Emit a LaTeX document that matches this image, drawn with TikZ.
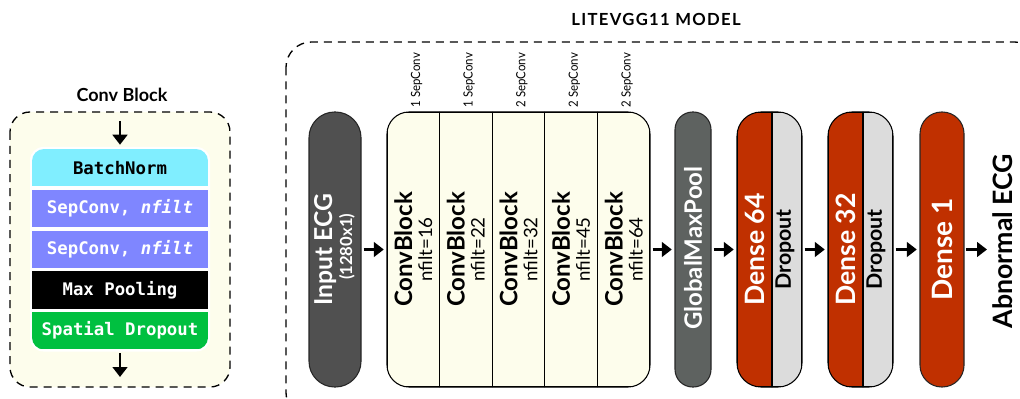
\documentclass[tikz,border=0pt]{standalone}
\usepackage{fontspec}
\setmainfont{Lato}
\setmonofont{DejaVu Sans Mono}
\usetikzlibrary{arrows.meta}

\definecolor{ivory}{HTML}{FDFDEC}
\definecolor{bncyan}{HTML}{80EEFF}
\definecolor{sepblue}{HTML}{7F86FF}
\definecolor{sdgreen}{HTML}{00C040}
\definecolor{inpgray}{HTML}{505050}
\definecolor{gmpgray}{HTML}{5E6260}
\definecolor{densered}{HTML}{C03000}
\definecolor{dropgray}{HTML}{DCDCDC}

\newcommand{\fsz}[1]{\fontsize{#1}{#1}\selectfont}

\begin{document}
\begin{tikzpicture}[x=0.75pt,y=-0.75pt,
  arr/.style={line width=2pt,-{Triangle[length=7.5pt,width=11pt]}},
  frame/.style={line width=1pt,dash pattern=on 6pt off 4.5pt},
  band/.style={minimum width=132pt,minimum height=28.1pt,inner sep=0pt,
    font=\ttfamily\bfseries\fsz{13}},
  pillbox/.style={draw=black!85,line width=0.8pt,inner sep=0pt,minimum height=206.25pt},
  colbox/.style={draw=black,line width=0.8pt,fill=ivory,inner sep=0pt,
    minimum width=39.45pt,minimum height=206.25pt},
  coltext/.style={rotate=90,align=center,inner sep=0pt,font=\fsz{15}},
  seplabel/.style={rotate=90,anchor=west,inner sep=0pt,font=\fsz{9.5}},
  vtitle/.style={rotate=90,inner sep=0pt,font=\bfseries\fsz{18}},
]
\useasboundingbox (0,0) rectangle (1020,399);

% ---------- Conv Block detail ----------
\node[font=\bfseries\fsz{13.5}] (cbtitle) at (122,95) {Conv Block};
\draw[frame,fill=ivory,rounded corners=15pt] (10,112) rectangle (230,387);

\fill[white,rounded corners=10pt] (30,147) rectangle (210,351.5);
\begin{scope}
  \clip[rounded corners=9pt] (32,149) rectangle (208,349.5);
  \node[band,fill=bncyan,text=black] (bn) at (120,167.75) {BatchNorm};
  \node[band,fill=sepblue,text=white] (sc1) at (120,208.5) {SepConv, \textit{nfilt}};
  \node[band,fill=sepblue,text=white] (sc2) at (120,249.25) {SepConv, \textit{nfilt}};
  \node[band,fill=black,text=white] (mp) at (120,290) {Max Pooling};
  \node[band,fill=sdgreen,text=white] (sd) at (120,330.75) {Spatial Dropout};
\end{scope}

\coordinate (cbin) at (120,121);
\coordinate (cbout) at (120,377);
\draw[arr,shorten >=3pt] (cbin) -- (bn.north);
\draw[arr,shorten <=2.5pt] (sd.south) -- (cbout);

% ---------- LiteVGG11 model ----------
\node[font=\bfseries\fsz{12.5}\addfontfeature{LetterSpace=8}] (mtitle) at (656,19) {LITEVGG11 MODEL};
\begin{scope}
  \clip (0,0) rectangle (1020,399);
  \draw[frame,rounded corners=19pt] (286,42) rectangle (1040,418);
\end{scope}

% input
\node[pillbox,fill=inpgray,minimum width=39pt,rounded corners=19.2pt] (inp) at (335,249.5) {};
\node[coltext,text=white] (inptext) at ([xshift=-0.5pt]inp.center)
  {{\bfseries\fsz{18.5}Input ECG}\\{\bfseries\fsz{12.5}\hspace*{4pt}(1280x1)}};

% five conv blocks
\begin{scope}
  \clip[rounded corners=16.5pt] (387,112) rectangle (650,387);
  \foreach \i/\cx in {1/413.3,2/465.9,3/518.5,4/571.1,5/623.7}{
    \node[colbox] (col\i) at (\cx,249.5) {};
  }
\end{scope}
\draw[line width=0.8pt,rounded corners=16.5pt] (387,112) rectangle (650,387);

\foreach \i/\n in {1/16,2/22,3/32,4/45,5/64}{
  \node[coltext] (ct\i) at (col\i.center)
    {{\bfseries\fsz{18}ConvBlock}\\{\fsz{14}nfilt=\n}};
}
\foreach \i/\k in {1/1,2/1,3/2,4/2,5/2}{
  \node[seplabel] (sl\i) at ([xshift=2.5pt,yshift=3pt]col\i.north)
    {\scalebox{0.9}[1]{\k\ SepConv}};
}

% global max pooling
\node[pillbox,fill=gmpgray,minimum width=27pt,rounded corners=13.2pt] (gmp) at (693,249.5) {};
\node[vtitle,text=white] (gmptext) at ([yshift=1pt]gmp.center) {GlobalMaxPool};

% dense + dropout, twice
\begin{scope}
  \clip[rounded corners=18pt] (737,112) rectangle (802,387);
  \node[pillbox,draw=black,fill=densered,minimum width=26.25pt] (dn1) at (754.5,249.5) {};
  \node[pillbox,draw=black,fill=dropgray,minimum width=22.5pt] (do1) at (787,249.5) {};
\end{scope}
\draw[line width=0.8pt,rounded corners=18pt] (737,112) rectangle (802,387);
\node[vtitle,text=white,font=\bfseries\fsz{20}] (dn1t) at (dn1.center) {Dense 64};
\node[vtitle,font=\bfseries\fsz{16}] (do1t) at ([xshift=-1.5pt]do1.center) {Dropout};

\begin{scope}
  \clip[rounded corners=18pt] (828,112) rectangle (893,387);
  \node[pillbox,draw=black,fill=densered,minimum width=26.25pt] (dn2) at (845.5,249.5) {};
  \node[pillbox,draw=black,fill=dropgray,minimum width=22.5pt] (do2) at (878,249.5) {};
\end{scope}
\draw[line width=0.8pt,rounded corners=18pt] (828,112) rectangle (893,387);
\node[vtitle,text=white,font=\bfseries\fsz{20}] (dn2t) at (dn2.center) {Dense 32};
\node[vtitle,font=\bfseries\fsz{16}] (do2t) at ([xshift=-1.5pt]do2.center) {Dropout};

% output layer
\node[pillbox,fill=densered,minimum width=33pt,rounded corners=16.3pt] (d1) at (942,249.5) {};
\node[vtitle,text=white,font=\bfseries\fsz{21}] (d1t) at (d1.center) {Dense 1};

\node[vtitle,text=black,font=\bfseries\fsz{20}] (outt) at (1003,241) {Abnormal ECG};
\coordinate (out) at (987,249.5);

% connections
\draw[arr,shorten <=1.5pt,shorten >=2pt] (inp.east) -- (col1.west);
\draw[arr,shorten <=1.5pt,shorten >=2pt] (col5.east) -- (gmp.west);
\draw[arr,shorten <=1.5pt,shorten >=2pt] (gmp.east) -- (dn1.west);
\draw[arr,shorten <=1.5pt,shorten >=2pt] (do1.east) -- (dn2.west);
\draw[arr,shorten <=1.5pt,shorten >=2pt] (do2.east) -- (d1.west);
\draw[arr,shorten <=1pt] (d1.east) -- (out);
\end{tikzpicture}
\end{document}
